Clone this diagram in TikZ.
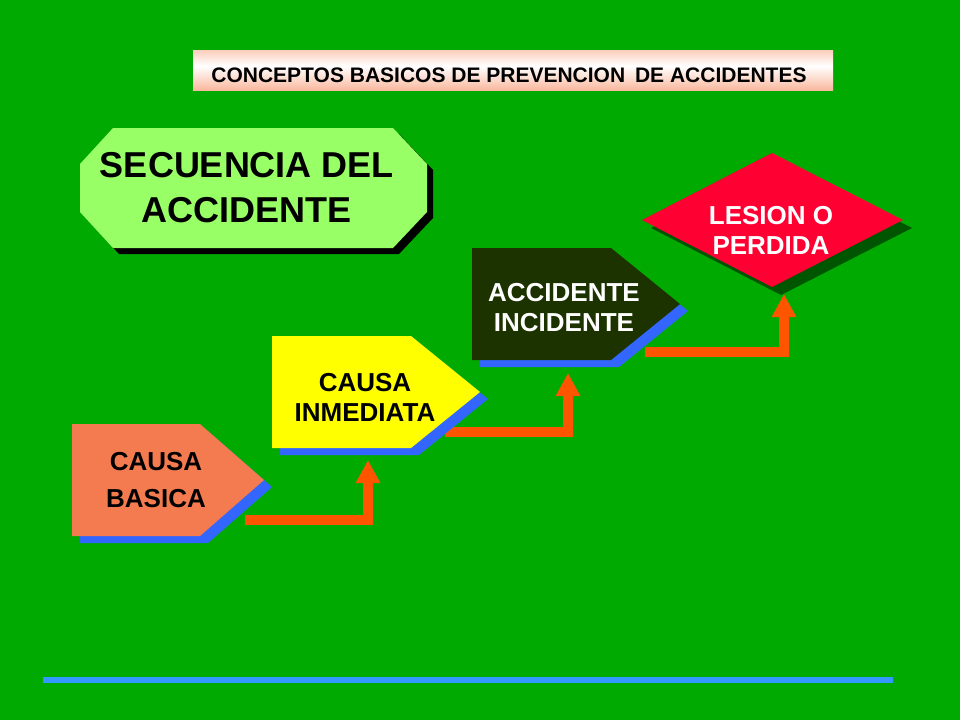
\documentclass[tikz,border=0pt]{standalone}
\usepackage{fontspec}
\setmainfont{Liberation Sans}
\usetikzlibrary{arrows.meta}
\definecolor{bg}{HTML}{00AA00}
\definecolor{titletop}{HTML}{F9AE90}
\definecolor{titlebot}{HTML}{F79A74}
\definecolor{octfill}{HTML}{99FF66}
\definecolor{basicafill}{HTML}{F47B4F}
\definecolor{inmedfill}{HTML}{FFFF00}
\definecolor{accfill}{HTML}{1C3300}
\definecolor{lesionfill}{HTML}{FF0033}
\definecolor{blueshadow}{HTML}{3366FF}
\definecolor{greenshadow}{HTML}{005500}
\definecolor{arrowc}{HTML}{FF5500}
\definecolor{rulecolor}{HTML}{3399FF}
\pgfdeclareverticalshading{titleshade}{100bp}{color(0bp)=(titlebot); color(12bp)=(titlebot); color(55bp)=(white); color(88bp)=(titletop); color(100bp)=(titletop)}
\begin{document}
\begin{tikzpicture}[x=1pt,y=-1pt,
  lbl/.style={inner sep=0pt, align=center, font=\bfseries\fontsize{26}{30}\selectfont},
  flow/.style={draw=arrowc, line width=9.5pt, line join=miter,
    -{Triangle[length=23pt 0 0,width=23pt 0 0]}},
  bshadow/.style={fill=blueshadow, shift={(8,7)}}]
\fill[bg] (0,0) rectangle (960,720);
\useasboundingbox (0,0) rectangle (960,720);
% bottom rule
\draw[draw=rulecolor, line width=6pt] (43,680) -- (893,680);
% title bar
\shade[shading=titleshade] (193,50) rectangle (833,90);
\node[inner sep=0pt, font=\bfseries\fontsize{21}{24}\selectfont] (titulo) at (509,75)
  {CONCEPTOS BASICOS DE PREVENCION\hspace{4pt} DE ACCIDENTES};
% connector coordinates
\coordinate (basica-out) at (245,520);
\coordinate (inmediata-in) at (368,460);
\coordinate (inmediata-out) at (445,432);
\coordinate (accidente-in) at (568,373);
\coordinate (accidente-out) at (645,352);
\coordinate (lesion-in) at (784,294);
% connectors
\draw[flow] (basica-out) -| (inmediata-in);
\draw[flow] (inmediata-out) -| (accidente-in);
\draw[flow] (accidente-out) -| (lesion-in);
% octagon
\fill[black, shift={(6,6)}] (113,128) -- (393,128) -- (427,164) -- (427,212) -- (393,248) -- (113,248) -- (80,212) -- (80,164) -- cycle;
\fill[octfill] (113,128) -- (393,128) -- (427,164) -- (427,212) -- (393,248) -- (113,248) -- (80,212) -- (80,164) -- cycle;
% causa basica
\fill[bshadow] (72,424) -- (200,424) -- (264,480) -- (200,536) -- (72,536) -- cycle;
\fill[basicafill] (72,424) -- (200,424) -- (264,480) -- (200,536) -- (72,536) -- cycle;
% causa inmediata
\fill[bshadow] (272,336) -- (411,336) -- (480,392) -- (411,448) -- (272,448) -- cycle;
\fill[inmedfill] (272,336) -- (411,336) -- (480,392) -- (411,448) -- (272,448) -- cycle;
% accidente
\fill[bshadow] (472,248) -- (611,248) -- (680,304) -- (611,360) -- (472,360) -- cycle;
\fill[accfill] (472,248) -- (611,248) -- (680,304) -- (611,360) -- (472,360) -- cycle;
% lesion diamond
\fill[greenshadow, shift={(9,8)}] (642,220) -- (772,153) -- (903,220) -- (772,287) -- cycle;
\fill[lesionfill] (642,220) -- (772,153) -- (903,220) -- (772,287) -- cycle;
% texts
\node[inner sep=0pt, align=center, font=\bfseries\fontsize{36}{45}\selectfont] (secuencia) at (247,187.5) {SECUENCIA DEL\\ACCIDENTE};
\node[lbl, font=\bfseries\fontsize{26}{37}\selectfont] (basica) at (156,480.5) {CAUSA\\BASICA};
\node[lbl] (inmediata) at (365,397.5) {CAUSA\\INMEDIATA};
\node[lbl, text=white] (accidente) at (564,308) {ACCIDENTE\\INCIDENTE};
\node[lbl, text=white] (lesion) at (771,230.5) {LESION O\\PERDIDA};
\end{tikzpicture}
\end{document}
